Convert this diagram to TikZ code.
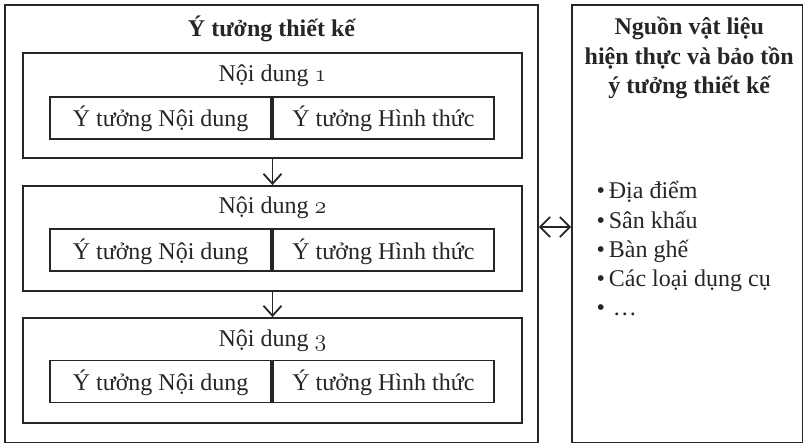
\documentclass[tikz,border=0pt]{standalone}
\usepackage{fontspec}
\setmainfont{Liberation Serif}
\usetikzlibrary{arrows.meta, positioning, calc}
\newcommand{\osnum}[1]{$\mathnormal{#1}$}
\newcommand{\itemdot}{\textbullet\hspace{2pt}}
\tikzset{
  outerbox/.style={
    rectangle, draw=black!85, line width=0.9pt, inner sep=0pt
  },
  partbox/.style={
    rectangle, draw=black!85, line width=0.9pt, inner sep=0pt,
    minimum width=249.5pt, minimum height=52.5pt
  },
  ideacell/.style={
    rectangle, draw=black!85, line width=0.9pt, inner sep=0pt,
    minimum width=110.5pt, minimum height=21pt,
    text height=12pt, text depth=3pt, text=black!85,
    font=\fontsize{12}{14.6}\selectfont
  },
  boxtitle/.style={
    inner sep=0pt, text=black!85, align=center,
    font=\fontsize{12}{14.6}\selectfont\bfseries
  },
  parttitle/.style={
    inner sep=0pt, text=black!85,
    font=\fontsize{12}{14.6}\selectfont
  },
  arrow/.style={
    -{Straight Barb[length=5pt, width=9pt]},
    line width=0.9pt, draw=black!85
  }
}

\begin{document}
\begin{tikzpicture}[x=0.5pt, y=0.5pt]

\useasboundingbox (0,0) rectangle (804,-444);

% ── Two outer frames ──────────────────────────────────────────────────────────

\node[outerbox, minimum width=266.5pt, minimum height=218.75pt] (ideas) at (271.5,-223.75) {};
\node[outerbox, minimum width=115.25pt, minimum height=218.75pt] (sources) at (687.25,-223.75) {};

\node[boxtitle, anchor=base] (ideasT) at ($(ideas.north)+(0,-32)$) {Ý tưởng thiết kế};

\node[boxtitle, anchor=north] (sourcesT) at ($(sources.north)+(2,-13)$) {%
  Nguồn vật liệu\\
  hiện thực và bảo tồn\\
  ý tưởng thiết kế
};

\node[parttitle, align=left, anchor=north west] (items) at ($(sources.north west)+(25,-177)$) {%
  \itemdot Địa điểm\\
  \itemdot Sân khấu\\
  \itemdot Bàn ghế\\
  \itemdot Các loại dụng cụ\\
  \itemdot \,…
};

% ── Content blocks ────────────────────────────────────────────────────────────

\node[partbox] (part1) at (272.5,-105.5) {};
\node[partbox] (part2) at (272.5,-238.5) {};
\node[partbox] (part3) at (272.5,-370.5) {};

\node[parttitle, anchor=base] (part1T) at ($(part1.north)+(0,-29)$) {Nội dung \osnum{1}};
\node[parttitle, anchor=base] (part2T) at ($(part2.north)+(0,-28)$) {Nội dung \osnum{2}};
\node[parttitle, anchor=base] (part3T) at ($(part3.north)+(0,-29)$) {Nội dung \osnum{3}};

% ── Idea cells (content | form) ───────────────────────────────────────────────

\node[ideacell, anchor=east] (cont1) at ($(part1.center)+(-0.5,-12.5)$) {Ý tưởng Nội dung};
\node[ideacell, anchor=west] (form1) at (cont1.east) {Ý tưởng Hình thức};

\node[ideacell, anchor=east] (cont2) at ($(part2.center)+(-0.5,-11.5)$) {Ý tưởng Nội dung};
\node[ideacell, anchor=west] (form2) at (cont2.east) {Ý tưởng Hình thức};

\node[ideacell, anchor=east] (cont3) at ($(part3.center)+(-0.5,-11)$) {Ý tưởng Nội dung};
\node[ideacell, anchor=west] (form3) at (cont3.east) {Ý tưởng Hình thức};

% ── Arrows ────────────────────────────────────────────────────────────────────

\draw[arrow] (part1.south) -- (part2.north);
\draw[arrow] (part2.south) -- (part3.north);

\coordinate (linkrow) at (0,-227);
\draw[arrow, {Straight Barb[length=5pt, width=10pt]}-{Straight Barb[length=5pt, width=10pt]}]
  (ideas.east |- linkrow) -- (sources.west |- linkrow);

\end{tikzpicture}
\end{document}
